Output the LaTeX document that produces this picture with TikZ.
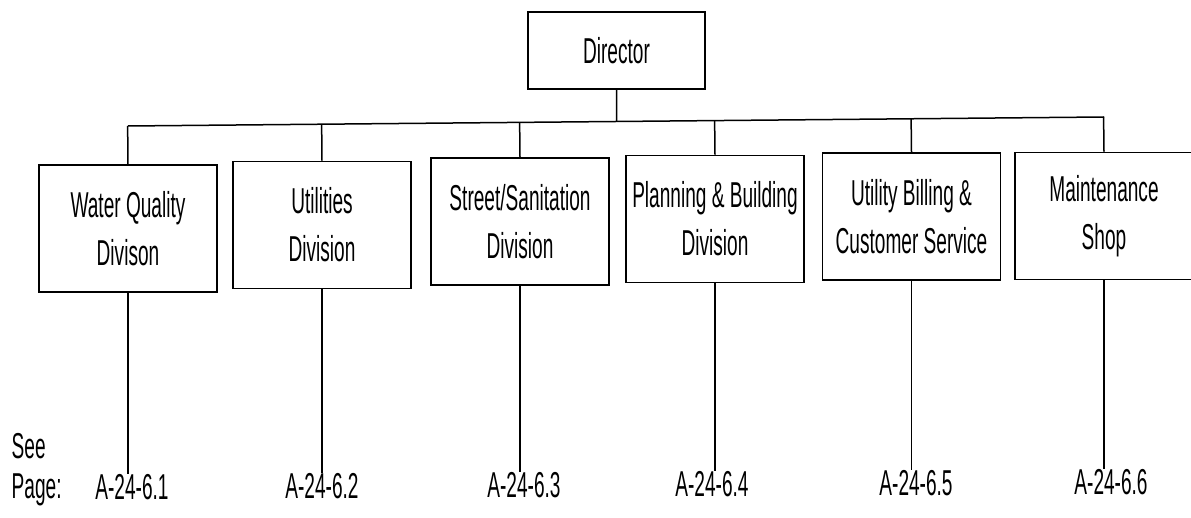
\documentclass[tikz,border=0pt]{standalone}
\usepackage{fontspec}
\setmainfont{Liberation Sans}[FakeStretch=0.53]
\usepackage{tikz}
\usetikzlibrary{positioning, calc}

\begin{document}
\begin{tikzpicture}[
            x = 1pt, y = -1pt, % one unit per pixel, y going down
            line width = 1.5pt, % line style
            every text node part/.style={align=center}
        ]

        \tikzstyle{division}=[
            draw = black,
            minimum width = 178pt,
            minimum height = 127pt,
            inner sep = 0pt,
            font = \fontsize{36}{48}\selectfont
        ]
        \tikzstyle{pageref}=[
            anchor = base,
            inner sep = 0pt,
            outer sep = 0pt,
            font = \fontsize{36}{40}\selectfont
        ]

        \useasboundingbox (0,0) rectangle (1191,518);

        \node[division, minimum width = 177pt, minimum height = 77pt] (DIR) at (616.5,50.5) {Director};

        \node[division] (WQ) at (128,228.5) {Water Quality \\ Divison};
        \node[division] (UT) at (322,225) {Utilities \\ Division};
        \node[division] (SS) at (520,221.5) {Street/Sanitation \\ Division};
        \node[division] (PB) at (715,219) {Planning \& Building \\ Division};
        \node[division] (UB) at (911.5,216.5) {Utility Billing \& \\ Customer Service};
        \node[division] (MS) at (1104,216) {Maintenance \\ Shop};

        \node[pageref] (P1) at (132,499) {A-24-6.1};
        \node[pageref] (P2) at (322,498) {A-24-6.2};
        \node[pageref] (P3) at (524,497) {A-24-6.3};
        \node[pageref] (P4) at (712,496) {A-24-6.4};
        \node[pageref] (P5) at (916,495) {A-24-6.5};
        \node[pageref] (P6) at (1111,494) {A-24-6.6};

        \node[anchor = base west, inner sep = 0pt, font = \fontsize{36}{40}\selectfont] (SEE) at (11,458) {See};
        \node[anchor = base west, inner sep = 0pt, font = \fontsize{36}{40}\selectfont] (PAGE) at (11,498) {Page:};

        \coordinate (BUSL) at (128,126);
        \coordinate (BUSR) at (1104,117);

        \draw (BUSL) -- (BUSR);
        \draw (DIR.south) -- ($(BUSL)!(DIR.south)!(BUSR)$);
        \foreach \n in {WQ,UT,SS,PB,UB,MS}
            \draw (\n.north) -- ($(BUSL)!(\n.north)!(BUSR)$);

        \draw (WQ.south) -- (WQ.south |- P1.north);
        \draw (UT.south) -- (UT.south |- P2.north);
        \draw (SS.south) -- (SS.south |- P3.north);
        \draw (PB.south) -- (PB.south |- P4.north);
        \draw (UB.south) -- (UB.south |- P5.north);
        \draw (MS.south) -- (MS.south |- P6.north);

    \end{tikzpicture}
\end{document}
